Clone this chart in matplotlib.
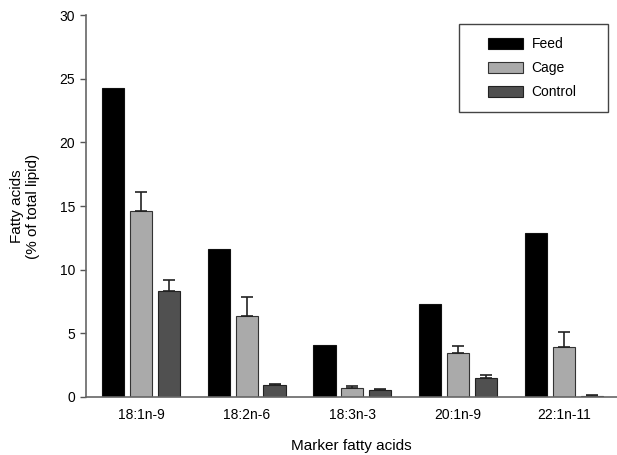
import numpy as np
import matplotlib
matplotlib.use("Agg")
import matplotlib.pyplot as plt
from matplotlib.patches import Rectangle

plt.rcParams['font.family'] = ['Liberation Sans', 'DejaVu Sans']

acids = ['18:1n-9', '18:2n-6', '18:3n-3', '20:1n-9', '22:1n-11']
feed = [24.3, 11.65, 4.05, 7.3, 12.88]
cage = [14.63, 6.36, 0.73, 3.48, 3.9]
cage_err = [1.5, 1.5, 0.16, 0.52, 1.23]
control = [8.35, 0.94, 0.55, 1.52, 0.08]
control_err = [0.84, 0.06, 0.08, 0.18, 0.04]

x = np.arange(len(acids))
w = 0.21
step = 0.264

W, H = 617, 455
fig = plt.figure(figsize=(W / 100, H / 100), dpi=100)
ax = fig.add_axes([0.1394, 0.1275, 0.86, 0.8395])

errkw = dict(ecolor='#222222', elinewidth=1.2, capsize=4, capthick=1.2)
ax.bar(x - step, feed, w, color='black', edgecolor='#111111', linewidth=0.8, label='Feed')
ax.bar(x, cage, w, color='#aaaaaa', edgecolor='#333333', linewidth=0.8, label='Cage',
       yerr=[np.zeros(len(x)), cage_err], error_kw=errkw)
ax.bar(x + step, control, w, color='#505050', edgecolor='#222222', linewidth=0.8, label='Control',
       yerr=[np.zeros(len(x)), control_err], error_kw=errkw)

ax.set_xlim(-0.52, 4.5)
ax.set_ylim(0, 30)
ax.set_yticks([0, 5, 10, 15, 20, 25, 30])
ax.set_xticks(x)
ax.set_xticklabels(acids)
ax.tick_params(axis='x', length=0, pad=8, labelsize=10)
ax.tick_params(axis='y', length=4, width=1, color='#555555', labelsize=10, pad=4)

for s in ['top', 'right']:
    ax.spines[s].set_visible(False)
for s in ['left', 'bottom']:
    ax.spines[s].set_color('#666666')
    ax.spines[s].set_linewidth(1.2)

ax.set_xlabel('Marker fatty acids', fontsize=11, labelpad=12)
ax.set_ylabel('Fatty acids\n(% of total lipid)', fontsize=11, labelpad=14)

# legend entries without frame, box drawn separately in pixel units
leg = ax.legend(loc='upper left', bbox_to_anchor=(488 / W, 1 - 37 / H),
                bbox_transform=fig.transFigure, fontsize=10, frameon=False,
                handlelength=2.5, handleheight=0.86, borderpad=0,
                labelspacing=0.72, handletextpad=0.65, borderaxespad=0)
box = Rectangle((459 / W, 1 - 112 / H), (608 - 459) / W, (112 - 24) / H,
                transform=fig.transFigure, fill=False, edgecolor='#444444', linewidth=1.0)
fig.patches.append(box)

fig.savefig('out.png', dpi=100)
